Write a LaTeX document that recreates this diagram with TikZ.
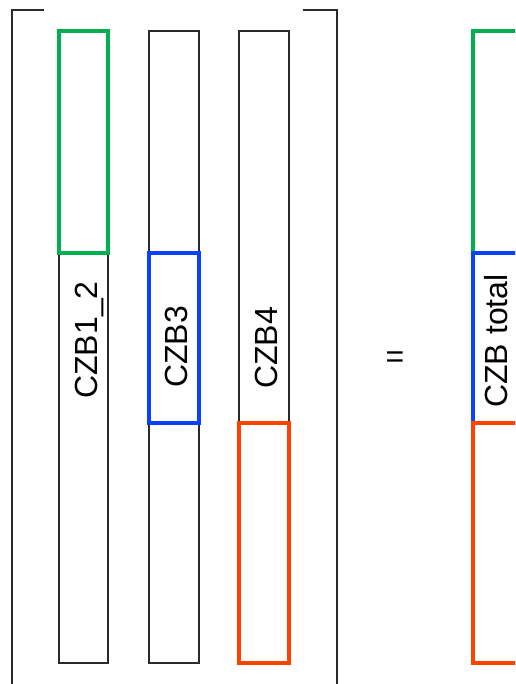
\documentclass[tikz,border=0pt]{standalone}
\usepackage{fontspec}
\setmainfont{Liberation Sans}
\definecolor{cgreen}{HTML}{00B050}
\definecolor{cblue}{HTML}{0A40FF}
\definecolor{cred}{HTML}{FF4200}
\definecolor{cline}{HTML}{2A2A2A}
\tikzset{
  barbox/.style={draw=cline, line width=1.5pt},
  gbox/.style={draw=cgreen, line width=4.2pt},
  bbox/.style={draw=cblue, line width=4.2pt},
  rbox/.style={draw=cred, line width=4.2pt},
  brk/.style={draw=cline, line width=2pt},
  lbl/.style={inner sep=0pt, text=black, font=\fontsize{32}{38}\selectfont},
}
\begin{document}
\begin{tikzpicture}[x=1pt, y=-1pt]
\useasboundingbox (0,0) rectangle (515,684);
\clip (0,0) rectangle (515,684);
% brackets
\coordinate (lbt) at (44,10);
\coordinate (lbc) at (12,10);
\coordinate (lbb) at (12,690);
\coordinate (rbt) at (303,10);
\coordinate (rbc) at (337,10);
\coordinate (rbb) at (337,690);
\draw[brk] (lbt) -- (lbc) -- (lbb);
\draw[brk] (rbt) -- (rbc) -- (rbb);
% bars
\draw[barbox] (59,31) rectangle (108,663);
\draw[barbox] (149,31) rectangle (199,663);
\draw[barbox] (239,31) rectangle (289,663);
% coloured parts
\draw[gbox] (59,31) rectangle (108,253);
\draw[bbox] (149,253) rectangle (199,423);
\draw[rbox] (239,423) rectangle (289,663);
\draw[gbox] (473,31) rectangle (525,253);
\draw[bbox] (473,253) rectangle (525,423);
\draw[rbox] (473,423) rectangle (525,663);
% labels
\node[lbl, rotate=90, anchor=base] (t1) at (97,340) {CZB1\_2};
\node[lbl, rotate=90, anchor=base] (t2) at (187,347) {CZB3};
\node[lbl, rotate=90, anchor=base] (t3) at (277,348) {CZB4};
\node[lbl, rotate=90, anchor=base] (t4) at (507,341) {CZB total};
\node[lbl, anchor=center] (eq) at (395,360) {=};
\end{tikzpicture}
\end{document}
